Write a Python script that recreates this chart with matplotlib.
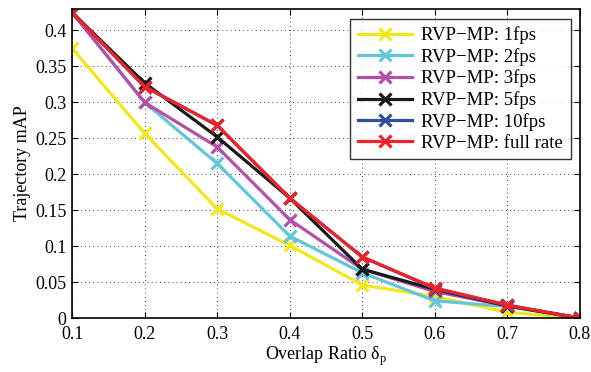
import matplotlib
matplotlib.use("Agg")
import matplotlib.pyplot as plt

plt.rcParams['font.family'] = ['Liberation Serif', 'DejaVu Serif']
plt.rcParams['mathtext.fontset'] = 'custom'
plt.rcParams['mathtext.rm'] = 'Liberation Serif'

overlap = [0.1, 0.2, 0.3, 0.4, 0.5, 0.6, 0.7, 0.8]
map_1fps = [0.375, 0.257, 0.152, 0.101, 0.046, 0.030, 0.008, 0.0]
map_2fps = [0.425, 0.300, 0.215, 0.114, 0.063, 0.024, 0.016, 0.0]
map_3fps = [0.425, 0.300, 0.238, 0.137, 0.068, 0.037, 0.017, 0.0]
map_5fps = [0.425, 0.327, 0.252, 0.167, 0.068, 0.040, 0.017, 0.0]
map_10fps = [0.425, 0.322, 0.268, 0.167, 0.085, 0.041, 0.018, 0.0]
map_full = [0.425, 0.322, 0.268, 0.167, 0.085, 0.042, 0.018, 0.0]

series = [
    (map_1fps, '#f0e81a', 'RVP\u2212MP: 1fps'),
    (map_2fps, '#62c6d8', 'RVP\u2212MP: 2fps'),
    (map_3fps, '#b450a8', 'RVP\u2212MP: 3fps'),
    (map_5fps, '#1a1a1a', 'RVP\u2212MP: 5fps'),
    (map_10fps, '#2e4ea0', 'RVP\u2212MP: 10fps'),
    (map_full, '#ee2228', 'RVP\u2212MP: full rate'),
]

fig = plt.figure(figsize=(5.91, 3.72), dpi=100)
ax = fig.add_axes([0.122, 0.145, 0.859, 0.831])

for vals, col, lab in series:
    ax.plot(overlap, vals, color=col, lw=2.3, marker='x', ms=8, mew=2.3, label=lab)

ax.set_xlim(0.1, 0.8)
ax.set_ylim(0, 0.43)
ax.set_xticks(overlap)
ax.set_xticklabels(['0.1', '0.2', '0.3', '0.4', '0.5', '0.6', '0.7', '0.8'])
yt = [0, 0.05, 0.1, 0.15, 0.2, 0.25, 0.3, 0.35, 0.4]
ax.set_yticks(yt)
ax.set_yticklabels(['0', '0.05', '0.1', '0.15', '0.2', '0.25', '0.3', '0.35', '0.4'])
ax.tick_params(direction='in', top=True, right=True, labelsize=13, length=4, width=0.8)
ax.tick_params(axis='x', pad=6)
ax.tick_params(axis='y', pad=4)
ax.grid(True, color='black', linestyle=(0, (1, 4)), linewidth=0.6)
for s in ax.spines.values():
    s.set_linewidth(1.2)

ax.set_xlabel('Overlap Ratio \u03b4$_{\\mathrm{p}}$', fontsize=13, labelpad=1)
ax.set_ylabel('Trajectory mAP', fontsize=13, labelpad=3)

leg = ax.legend(loc='upper right', fontsize=13.5, frameon=True, fancybox=False,
                edgecolor='black', handlelength=2.9, labelspacing=0.2,
                borderpad=0.4, handletextpad=0.5, borderaxespad=0,
                bbox_to_anchor=(0.982, 0.968))
leg.get_frame().set_linewidth(1.0)

fig.savefig('out.png', dpi=100)
